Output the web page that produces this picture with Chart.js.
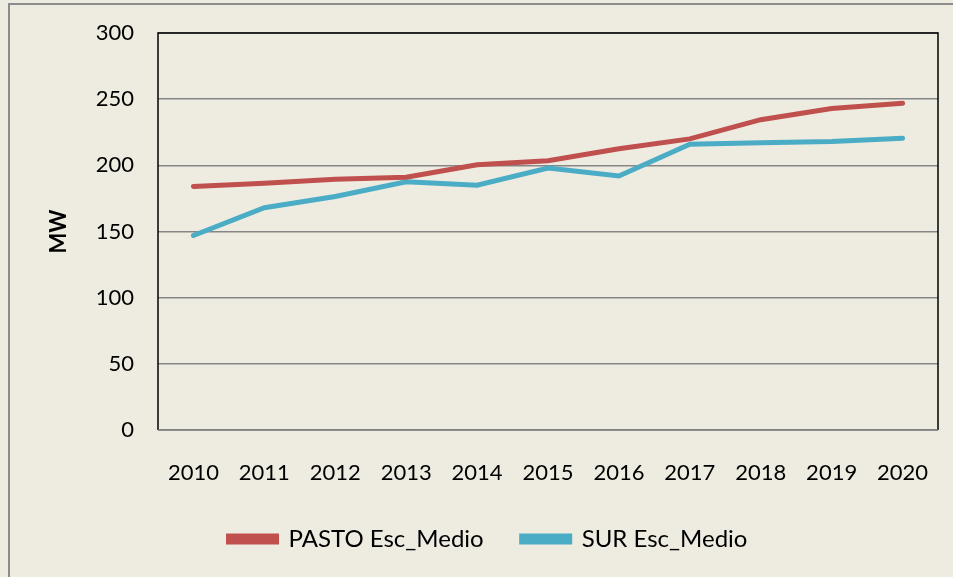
<!DOCTYPE html>
<html>
<head>
<meta charset="utf-8">
<script src="https://cdn.jsdelivr.net/npm/chart.js@4/dist/chart.umd.min.js"></script>
<style>
  html, body { margin: 0; padding: 0; background: #EEECE1; }
  #wrap { width: 953px; height: 577px; position: relative; }
</style>
</head>
<body>
<div id="wrap"><canvas id="c" width="953" height="577"></canvas></div>
<script>
const years = ['2010', '2011', '2012', '2013', '2014', '2015', '2016', '2017', '2018', '2019', '2020'];
const pastoMedio = [184, 186.5, 189.5, 191, 200.5, 203.5, 212.5, 220, 234.5, 243, 247];
const surMedio = [147, 168, 176.5, 187.5, 185, 198, 192, 216, 217, 218, 220.5];
const yTicks = [0, 50, 100, 150, 200, 250, 300];

const RED = '#C0504D';
const BLUE = '#4BACC6';

const frame = {
    id: 'frame',
    beforeDraw(chart) {
        const { ctx, width, height } = chart;
        ctx.save();
        ctx.fillStyle = '#EEECE1';
        ctx.fillRect(0, 0, width, height);
        ctx.strokeStyle = '#8C8C8C';
        ctx.lineWidth = 2;
        ctx.beginPath();
        ctx.moveTo(9, height);
        ctx.lineTo(9, 4);
        ctx.lineTo(width, 4);
        ctx.stroke();
        ctx.restore();
    },
    afterDatasetsDraw(chart) {
        const { ctx, chartArea: a } = chart;
        ctx.save();
        ctx.lineWidth = 1.5;
        ctx.strokeStyle = '#000';
        ctx.beginPath();
        ctx.moveTo(a.left, a.bottom);
        ctx.lineTo(a.left, a.top);
        ctx.lineTo(a.right, a.top);
        ctx.lineTo(a.right, a.bottom);
        ctx.stroke();
        ctx.strokeStyle = '#7F7F7F';
        ctx.beginPath();
        ctx.moveTo(a.left, a.bottom);
        ctx.lineTo(a.right, a.bottom);
        ctx.stroke();
        ctx.restore();
    }
};

new Chart(document.getElementById('c'), {
    type: 'line',
    data: {
        labels: years,
        datasets: [
            {
                label: 'PASTO Esc_Medio',
                data: pastoMedio,
                borderColor: RED,
                backgroundColor: RED,
                borderWidth: 5,
                borderCapStyle: 'round',
                pointRadius: 0,
                tension: 0,
            },
            {
                label: 'SUR Esc_Medio',
                data: surMedio,
                borderColor: BLUE,
                backgroundColor: BLUE,
                borderWidth: 5,
                borderCapStyle: 'round',
                pointRadius: 0,
                tension: 0,
            },
        ],
    },
    options: {
        responsive: false,
        animation: false,
        layout: { padding: { top: 33, right: 15, left: 38, bottom: 16 } },
        plugins: {
            legend: {
                position: 'bottom',
                labels: {
                    boxWidth: 48,
                    boxHeight: 6,
                    padding: 38,
                    color: '#000',
                    font: { family: 'Lato', size: 24 },
                },
            },
            tooltip: { enabled: false },
        },
        scales: {
            x: {
                offset: true,
                grid: { display: false, drawTicks: false },
                border: { display: false },
                ticks: { color: '#000', padding: 30, maxRotation: 0, font: { family: 'Lato', size: 22 } },
                afterFit: s => { s.height = 59; s.paddingLeft = 0; s.paddingRight = 0; },
            },
            y: {
                min: 0,
                max: 300,
                afterBuildTicks: s => { s.ticks = yTicks.map(v => ({ value: v })); },
                grid: { color: '#868686', lineWidth: 1.5, drawTicks: false },
                border: { display: false },
                ticks: { color: '#000', padding: 24, font: { family: 'Lato', size: 22 } },
                title: {
                    display: true,
                    text: 'MW',
                    color: '#000',
                    padding: { top: 8 },
                    font: { family: 'Lato', size: 22, weight: 'bold' },
                },
                afterFit: s => { s.width = 120; s.paddingTop = 0; s.paddingBottom = 0; },
            },
        },
    },
    plugins: [frame],
});
</script>
</body>
</html>
